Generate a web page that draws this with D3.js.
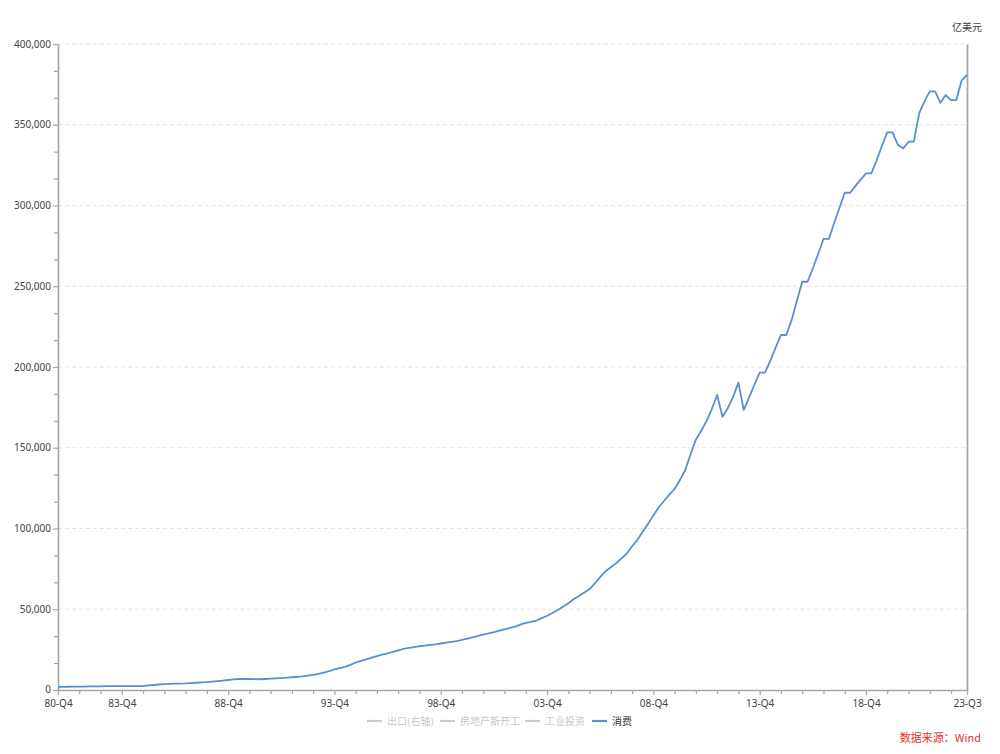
<!DOCTYPE html>
<html>
<head>
<meta charset="utf-8">
<script src="https://cdn.jsdelivr.net/npm/d3@7"></script>
<style>
  html, body { margin: 0; padding: 0; background: #fff; }
  svg { display: block; font-family: "Noto Sans", "Noto Sans CJK SC", sans-serif; }
</style>
</head>
<body>
<svg id="chart" width="1000" height="754"></svg>
<script>
// ---- data ----
const startYear = 1980, startQuarter = 4, nQuarters = 172;
const categories = [];
for (let k = 0; k < nQuarters; k++) {
  const q = startQuarter - 1 + k;
  const yr = startYear + Math.floor(q / 4);
  categories.push(String(yr % 100).padStart(2, "0") + "-Q" + (q % 4 + 1));
}
const consumption = [
  1900, 1950, 2000, 2050, 2100, 2150, 2200, 2250, 2300, 2350,
  2400, 2420, 2450, 2450, 2430, 2420, 2450, 2800, 3100, 3400,
  3700, 3800, 3900, 4000, 4100, 4300, 4500, 4700, 4900, 5200,
  5500, 5800, 6200, 6600, 6800, 6800, 6800, 6700, 6650, 6800,
  7000, 7200, 7400, 7600, 7900, 8200, 8500, 8900, 9300, 10000,
  10800, 11700, 12700, 13500, 14300, 15600, 17000, 18000, 19000, 20000,
  21000, 21900, 22700, 23600, 24600, 25500, 26100, 26600, 27100, 27500,
  27900, 28300, 28800, 29300, 29800, 30300, 31000, 31800, 32600, 33500,
  34300, 35000, 35800, 36700, 37600, 38500, 39300, 40500, 41500, 42200,
  43000, 44500, 46000, 47700, 49500, 51500, 53700, 56200, 58200, 60300,
  62500, 66000, 70000, 73500, 76000, 78500, 81500, 84500, 89000, 93000,
  98000, 103000, 108000, 113000, 117000, 121000, 124500, 130000, 136200, 146000,
  155000, 160500, 166500, 174000, 182700, 169200, 174500, 181500, 190300, 173400,
  181000, 189000, 196500, 196500, 204000, 212000, 219800, 219800, 229000, 241000,
  252800, 252800, 261000, 270000, 279300, 279300, 289000, 298500, 307900, 307900,
  312000, 316000, 319900, 319900, 328000, 337000, 345300, 345300, 337500, 335400,
  339500, 339500, 357000, 364500, 370700, 370700, 363600, 368400, 365300, 365300,
  377500, 380800
];
const xTickLabels = ["80-Q4","83-Q4","88-Q4","93-Q4","98-Q4","03-Q4","08-Q4","13-Q4","18-Q4","23-Q3"];
const yMajorTicks = [0, 50000, 100000, 150000, 200000, 250000, 300000, 350000, 400000];
const legendNames = ["出口(右轴)", "房地产新开工", "工业投资", "消费"];
const legendActive = [false, false, false, true];
const unitLabel = "亿美元";
const sourceLabel = "数据来源：Wind";

// ---- layout ----
const svg = d3.select("#chart");
const L = 58, R = 967, T = 44, B = 690;
const axisColor = "#a6a6a6", textColor = "#444", lineColor = "#5b8ed6";

const x = d3.scalePoint().domain(categories).range([L, R]).padding(0);
const y = d3.scaleLinear().domain([0, 400000]).range([B, T]);

// gridlines
svg.append("g").selectAll("line").data(yMajorTicks.filter(d => d > 0)).join("line")
  .attr("x1", L).attr("x2", R)
  .attr("y1", d => y(d)).attr("y2", d => y(d))
  .attr("stroke", "#e3e3e3").attr("stroke-width", 1).attr("stroke-dasharray", "4,3");

// y minor ticks
const yMinor = d3.range(0, 400001, 50000 / 3).filter(v => yMajorTicks.indexOf(Math.round(v)) < 0);
const yAxisMinor = svg.append("g").attr("transform", `translate(${L},0)`)
  .call(d3.axisLeft(y).tickValues(yMinor).tickSize(4).tickFormat(""));
yAxisMinor.select(".domain").remove();
yAxisMinor.selectAll("line").attr("stroke", axisColor).attr("stroke-width", 1.2);

// y major
const yAxis = svg.append("g").attr("transform", `translate(${L},0)`)
  .call(d3.axisLeft(y).tickValues(yMajorTicks).tickSize(5).tickPadding(2).tickSizeOuter(0)
    .tickFormat(d3.format(",")));
yAxis.select(".domain").attr("stroke", axisColor).attr("stroke-width", 1.6);
yAxis.selectAll("line").attr("stroke", axisColor).attr("stroke-width", 1.2);
yAxis.selectAll("text").attr("fill", textColor).style("font-size", "10px")
  .style("font-family", '"Noto Sans", sans-serif');
yAxis.selectAll("text").filter(d => d === 0).attr("dy", "0.2em");

// right axis line
svg.append("g").attr("transform", `translate(${R},0)`)
  .call(d3.axisRight(y).tickValues([]).tickSizeOuter(0))
  .select(".domain").attr("stroke", axisColor).attr("stroke-width", 1.8);

// x axis minor (every year)
const xMinorVals = categories.filter((c, k) => k % 4 === 0 && xTickLabels.indexOf(c) < 0);
const xMinor = svg.append("g").attr("transform", `translate(0,${B})`)
  .call(d3.axisBottom(x).tickValues(xMinorVals).tickSize(4).tickFormat(""));
xMinor.select(".domain").remove();
xMinor.selectAll("line").attr("stroke", axisColor).attr("stroke-width", 1.2);

const xAxis = svg.append("g").attr("transform", `translate(0,${B})`)
  .call(d3.axisBottom(x).tickValues(xTickLabels).tickSize(5).tickPadding(5).tickSizeOuter(0));
xAxis.select(".domain").attr("stroke", axisColor).attr("stroke-width", 1.6);
xAxis.selectAll("line").attr("stroke", axisColor).attr("stroke-width", 1.2);
xAxis.selectAll("text").attr("fill", textColor).style("font-size", "10px")
  .style("font-family", '"Noto Sans", sans-serif');

// line
const line = d3.line().x((d, k) => x(categories[k])).y(d => y(d));
svg.append("path").datum(consumption)
  .attr("fill", "none").attr("stroke", lineColor).attr("stroke-width", 1.8)
  .attr("stroke-linejoin", "round").attr("d", line);

// unit label
svg.append("text").attr("x", 982).attr("y", 31).attr("text-anchor", "end")
  .attr("fill", textColor).style("font-size", "10px")
  .style("font-family", '"Noto Sans CJK SC", sans-serif').text(unitLabel);

// legend
const legendX = [367, 440, 525, 592];
const lg = svg.append("g");
legendNames.forEach((name, k) => {
  const col = legendActive[k] ? lineColor : "#cccccc";
  const g = lg.append("g").attr("transform", `translate(${legendX[k]},721)`);
  g.append("line").attr("x1", 0).attr("x2", 15).attr("y1", 0).attr("y2", 0)
    .attr("stroke", col).attr("stroke-width", 2.2);
  g.append("text").attr("x", 20).attr("y", 3.5)
    .attr("fill", legendActive[k] ? "#333" : "#c8c8c8")
    .style("font-size", "10px").style("font-family", '"Noto Sans CJK SC", sans-serif')
    .text(name);
});

// source
svg.append("text").attr("x", 981).attr("y", 742).attr("text-anchor", "end")
  .attr("fill", "#e8302f").style("font-size", "11px")
  .style("font-family", '"Noto Sans CJK SC", sans-serif').text(sourceLabel);
</script>
</body>
</html>
